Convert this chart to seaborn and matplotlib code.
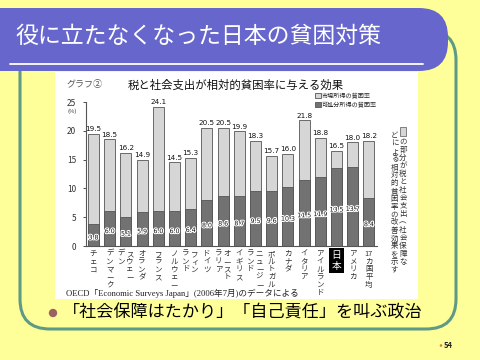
import seaborn as sns
import matplotlib.pyplot as plt
import matplotlib.patheffects as pe
from matplotlib.patches import FancyBboxPatch, Rectangle, Circle

# data (OECD, relative poverty rate, %)
countries = ['チェコ', 'デンマーク', 'スウェーデン', 'オランダ', 'フランス', 'ノルウェー',
             'フィンランド', 'ドイツ', 'オーストラリア', 'イギリス', 'ニュージーランド',
             'ポルトガル', 'カナダ', 'イタリア', 'アイルランド', '日本', 'アメリカ', '17カ国平均']
# how each name is broken into vertical columns (right to left)
tick_columns = [['チェコ'], ['デンマーク'], ['スウェー', 'デン'], ['オランダ'], ['フランス'],
                ['ノルウェー'], ['フィン', 'ランド'], ['ドイツ'], ['オースト', 'ラリア'],
                ['イギリス'], ['ニュージー', 'ランド'], ['ポルトガル'], ['カナダ'], ['イタリア'],
                ['アイルランド'], ['日本'], ['アメリカ'], ['17カ国平均']]
market = [19.5, 18.5, 16.2, 14.9, 24.1, 14.5, 15.3, 20.5, 20.5, 19.9, 18.3, 15.7,
          16.0, 21.8, 18.8, 16.5, 18.0, 18.2]
disposable = [3.8, 6.0, 5.1, 5.9, 6.0, 6.0, 6.4, 8.0, 8.6, 8.7, 9.5, 9.6,
              10.3, 11.5, 11.9, 13.5, 13.7, 8.4]
yticks = [0, 5, 10, 15, 20, 25]

sns.set_theme(style='white')
plt.rcParams['font.family'] = ['Noto Sans CJK JP', 'DejaVu Sans']

YELLOW = '#FFFF99'
PURPLE = '#6666CC'
TEAL = '#5E9A86'


def vert(s):
    # stack characters for vertical writing, keep digit runs together
    out, buf = [], ''
    for ch in s:
        if ch.isdigit():
            buf += ch
        else:
            if buf:
                out.append(buf)
                buf = ''
            out.append(ch)
    if buf:
        out.append(buf)
    return '\n'.join(out)


fig = plt.figure(figsize=(4.8, 3.6), dpi=100, facecolor=YELLOW)

# slide decoration in pixel coordinates
bg = fig.add_axes([0, 0, 1, 1])
bg.set_xlim(0, 480)
bg.set_ylim(360, 0)
bg.axis('off')

bg.add_patch(FancyBboxPatch((20, 30), 436, 299, boxstyle='round,pad=0,rounding_size=30',
                            fc='none', ec=TEAL, lw=2.2, zorder=1))
bg.add_patch(FancyBboxPatch((-60, 8), 508, 63, boxstyle='round,pad=0,rounding_size=29',
                            fc=PURPLE, ec='none', zorder=2))
bg.plot([10, 423], [63.5, 63.5], color='white', lw=1.3, zorder=3)
bg.text(15, 36, '役に立たなくなった日本の貧困対策', color='white', fontsize=16.5,
        va='center', ha='left', zorder=4)
bg.add_patch(Rectangle((55, 72), 363, 227, fc='white', ec='none', zorder=2))

bg.text(66, 84, 'グラフ②', fontsize=6.5, color='#555555', va='center', zorder=4)
bg.text(128, 85, '税と社会支出が相対的貧困率に与える効果', fontsize=8.2, color='#111111',
        va='center', zorder=4)
bg.text(72, 111.5, '(%)', fontsize=4.2, color='#333333', va='center', ha='center', zorder=4)

# side note written vertically
bg.add_patch(Rectangle((400, 127), 6, 9, fc='#d6d6d6', ec='#555555', lw=0.5, zorder=4))
bg.text(403, 138, vert('の部分が税と社会支出︵社会保障な'), fontsize=5.4, color='#333333',
        ha='center', va='top', linespacing=1.0, zorder=4)
bg.text(394.5, 132, vert('どによる相対的貧困率の改善効果を示す'), fontsize=5.4, color='#333333',
        ha='center', va='top', linespacing=0.98, zorder=4)

bg.text(66, 293, 'OECD「Economic Surveys Japan」(2006年7月)のデータによる', fontsize=6.2,
        family=['Liberation Serif', 'Noto Sans CJK JP'], color='#222222', va='center', zorder=4)

bg.add_patch(Circle((53, 313), 4.2, fc='#9A6262', ec='none', zorder=4))
bg.text(63, 313, '「社会保障はたかり」「自己責任」を叫ぶ政治', fontsize=12.3, color='black',
        va='center', ha='left', zorder=4)

bg.add_patch(Circle((441, 345.5), 1.3, fc='#D08040', ec='none', zorder=4))
bg.text(444, 345, '54', fontsize=5.5, fontweight='bold', color='#222222', va='center', zorder=4)

# the bar chart
ax = fig.add_axes([86 / 480, (360 - 246) / 360, (377 - 86) / 480, 144 / 360])
ax.set_facecolor('none')
sns.barplot(x=countries, y=market, color='#d6d6d6', saturation=1, width=0.68,
            edgecolor='#555555', linewidth=0.6, ax=ax, label='市場所得の貧困率')
sns.barplot(x=countries, y=disposable, color='#727272', saturation=1, width=0.68,
            edgecolor='#555555', linewidth=0.6, ax=ax, label='可処分所得の貧困率')

for i, v in enumerate(market):
    ax.text(i, v + 0.3, f'{v:.1f}', ha='center', va='bottom', fontsize=5.2,
            family='DejaVu Sans', color='#111111', clip_on=False)
for i, d in enumerate(disposable):
    ax.text(i, d * 0.5 - 0.5, f'{d:.1f}', ha='center', va='center', fontsize=4.5,
            family='DejaVu Sans', color='#111111',
            path_effects=[pe.withStroke(linewidth=1.5, foreground='white')])

for i, cols in enumerate(tick_columns):
    if countries[i] == '日本':
        ax.text(i, -0.7, vert(cols[0]), ha='center', va='top', fontsize=7, color='white',
                linespacing=1.1, clip_on=False,
                bbox=dict(boxstyle='square,pad=0.25', fc='black', ec='none'))
        continue
    n = len(cols)
    for k, col in enumerate(cols):
        dx = 0.0 if n == 1 else (0.25 if k == 0 else -0.28)
        ax.text(i + dx, -0.7, vert(col), ha='center', va='top', fontsize=5.4,
                color='#333333', linespacing=0.95, clip_on=False)

ax.set_xlim(-0.46, 17.5)
ax.set_ylim(0, 25)
ax.set_yticks(yticks)
ax.tick_params(axis='y', length=2, width=0.6, pad=5, labelsize=6, colors='#333333', left=True)
ax.tick_params(axis='x', labelbottom=False, bottom=False)
for side in ['top', 'right']:
    ax.spines[side].set_visible(False)
for side in ['left', 'bottom']:
    ax.spines[side].set_color('#555555')
    ax.spines[side].set_linewidth(0.8)

ax.legend(loc='upper left', bbox_to_anchor=(315, 92), bbox_transform=bg.transData,
          fontsize=4.4, frameon=False, handlelength=0.9, handleheight=0.9,
          handletextpad=0.2, labelspacing=0.15, borderpad=0, borderaxespad=0)

fig.savefig('out.png', dpi=100, facecolor=fig.get_facecolor())
